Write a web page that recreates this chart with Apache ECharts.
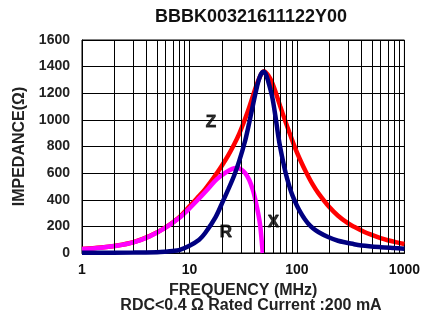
<!DOCTYPE html>
<html>
<head>
<meta charset="utf-8">
<script src="https://cdn.jsdelivr.net/npm/echarts@6/dist/echarts.min.js"></script>
<style>
html,body{margin:0;padding:0;background:#fff;}
#chart{width:423px;height:323px;}
</style>
</head>
<body>
<div id="chart"></div>
<script>
// ---- Data ----
const titleText = "BBBK00321611122Y00";
const xAxisName = "FREQUENCY (MHz)";
const subText = "RDC<0.4 \u03A9 Rated Current :200 mA";
const yAxisName = "IMPEDANCE(\u03A9)";

const freqZ = [1, 1.5, 2, 3, 4.25, 6, 8, 10, 12, 14, 18, 20, 23, 26, 29, 33, 36, 39.5, 42, 45, 47, 49, 51, 54, 58, 62, 65, 70, 78, 85, 96, 110, 122, 140, 158, 200, 241, 300, 344, 420, 490, 600, 700, 850, 1000];
const valsZ = [31, 41, 53, 81, 127, 193, 267, 350, 420, 480, 600, 655, 735, 815, 895, 1010, 1095, 1195, 1260, 1320, 1350, 1365, 1358, 1335, 1290, 1230, 1180, 1100, 990, 905, 790, 680, 605, 515, 450, 345, 280, 222, 195, 160, 138, 112, 96, 80, 68];

const freqX = [1, 3, 5, 6, 7, 8, 10, 12.3, 14, 17.5, 20.5, 23, 26, 29, 33, 36, 38, 42.5, 46, 49, 51, 54, 58.6, 63, 67, 70, 78, 85, 90, 100, 110, 118, 127, 140, 158, 195, 241, 340, 400, 600, 800, 1000];
const valsX = [2, 3, 6, 10, 15, 22, 55, 100, 150, 270, 390, 480, 580, 690, 845, 980, 1070, 1250, 1340, 1362, 1348, 1290, 1180, 1030, 880, 790, 610, 500, 440, 355, 293, 255, 222, 188, 158, 120, 92, 66, 57, 44, 37, 32];

const freqR = [1, 1.5, 2, 3, 4.25, 6, 8, 10, 12.3, 15, 18, 22, 25, 27.5, 30, 33, 36, 39, 41, 44, 45.6, 47, 48];
const valsR = [30, 40, 52, 80, 125, 190, 262, 335, 410, 485, 555, 608, 632, 638, 630, 600, 548, 470, 400, 280, 200, 90, 0];

const minorGridFreqs = [2,3,4,5,6,7,8,9,20,30,40,50,60,70,80,90,200,300,400,500,600,700,800,900];

const labelNames = ["Z", "R", "X"];
const labelFreqs = [15.8, 21.8, 60.5];
const labelVals = [984, 158, 233];

const yTicks = {min: 0, max: 1600, interval: 200};
const xRange = {min: 1, max: 1000};

// ---- Build ----
const zip = (a, b) => a.map((v, i) => [v, b[i]]);
const chart = echarts.init(document.getElementById('chart'), null, {renderer: 'canvas'});
const font = "Liberation Sans, Arial, sans-serif";

const option = {
  animation: false,
  backgroundColor: '#fff',
  grid: {left: 82, right: 16, top: 40, bottom: 70, show: true, borderColor: '#000', borderWidth: 1},
  graphic: [
    {type: 'text', x: 251, y: 8, style: {text: titleText, font: "bold 18px " + font, fill: '#111', textAlign: 'center'}},
    {type: 'text', x: 251, y: 298, style: {text: subText, font: "bold 16px " + font, fill: '#222', textAlign: 'center'}},
  ],
  xAxis: {
    type: 'log', logBase: 10, min: xRange.min, max: xRange.max,
    name: xAxisName, nameLocation: 'middle', nameGap: 30,
    nameTextStyle: {fontFamily: font, fontWeight: 'bold', fontSize: 16, color: '#222'},
    axisLine: {lineStyle: {color: '#000', width: 1}},
    axisTick: {show: false},
    axisLabel: {fontFamily: font, fontWeight: 'bold', fontSize: 14, color: '#111', margin: 10, formatter: v => String(v)},
    splitLine: {show: true, lineStyle: {color: '#000', width: 1}}
  },
  yAxis: {
    type: 'value', min: yTicks.min, max: yTicks.max, interval: yTicks.interval,
    name: yAxisName, nameLocation: 'middle', nameGap: 43, nameRotate: 90,
    nameTextStyle: {fontFamily: font, fontWeight: 'bold', fontSize: 16, color: '#222'},
    axisLine: {show: true, lineStyle: {color: '#000', width: 1}},
    axisTick: {show: false},
    axisLabel: {fontFamily: font, fontWeight: 'bold', fontSize: 14, color: '#222', margin: 12, formatter: v => String(v)},
    splitLine: {show: true, lineStyle: {color: '#000', width: 1}}
  },
  series: [
    {
      type: 'line', data: [[1, 0]], symbol: 'none', lineStyle: {width: 0}, silent: true, z: 1,
      markLine: {
        silent: true, symbol: ['none', 'none'], label: {show: false},
        lineStyle: {color: '#000', width: 1, type: 'solid'},
        data: minorGridFreqs.map(f => ({xAxis: f}))
      }
    },
    {type: 'line', name: 'Z', data: zip(freqZ, valsZ), smooth: 0.35, symbol: 'none', lineStyle: {color: '#FF0000', width: 4.5}, z: 3},
    {type: 'line', name: 'R', data: zip(freqR, valsR), smooth: 0.35, symbol: 'none', lineStyle: {color: '#FF00FF', width: 4.5}, z: 4},
    {type: 'line', name: 'X', data: zip(freqX, valsX), smooth: 0.35, symbol: 'none', lineStyle: {color: '#000080', width: 4.5}, z: 5},
    {
      type: 'scatter', symbolSize: 0, itemStyle: {color: 'rgba(0,0,0,0)'}, z: 6, silent: true,
      data: labelNames.map((n, i) => ({name: n, value: [labelFreqs[i], labelVals[i]]})),
      label: {show: true, position: 'inside', formatter: p => p.name,
        fontFamily: font, fontWeight: 'bold', fontSize: 17, color: '#000',
        textBorderColor: '#000', textBorderWidth: 0.8}
    }
  ]
};
chart.setOption(option);
</script>
</body>
</html>
